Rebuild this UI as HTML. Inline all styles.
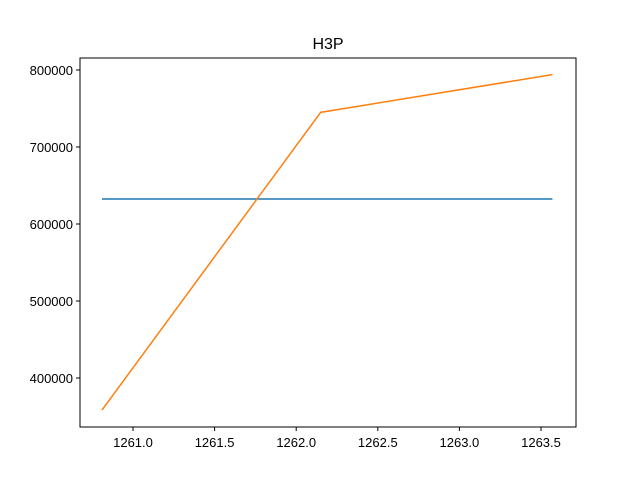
<!DOCTYPE html>
<html><head><meta charset="utf-8"><style>body{margin:0;background:#fff}svg{display:block;font-family:"Liberation Sans","DejaVu Sans",sans-serif}</style></head>
<body>
<svg id="chart" width="640" height="480">
<rect width="640" height="480" fill="#fff"/>
<text x="328" y="49" font-size="16" text-anchor="middle">H3P</text>
<g id="plot"></g>
<rect x="80" y="58" width="496" height="369" fill="none" stroke="#000" stroke-width="1"/>
</svg>
<script>
const xTicks = [1261.0, 1261.5, 1262.0, 1262.5, 1263.0, 1263.5];
const xTickLabels = ["1261.0","1261.5","1262.0","1262.5","1263.0","1263.5"];
const yTicks = [400000, 500000, 600000, 700000, 800000];
const yTickLabels = ["400000","500000","600000","700000","800000"];
const blueX = [1260.81, 1263.57];
const blueY = [632500, 632500];
const orangeX = [1260.81, 1262.15, 1263.57];
const orangeY = [358400, 745000, 794000];

const sx = v => 133 + (v - 1261.0) * 163.2;
const sy = v => 378 - (v - 400000) * 77 / 100000;
const NS = "http://www.w3.org/2000/svg";
const g = document.getElementById('plot');
function mk(tag, attrs){const e=document.createElementNS(NS,tag);for(const k in attrs)e.setAttribute(k,attrs[k]);g.appendChild(e);return e;}
xTicks.forEach((t,i)=>{
  const l=mk('line',{x1:sx(t),x2:sx(t),y1:427,y2:431,stroke:'#000'});
  
  
  const tx=mk('text',{x:sx(t),y:447,'font-size':13,'text-anchor':'middle'});
  tx.textContent=xTickLabels[i];
  
  
});
yTicks.forEach((t,i)=>{
  const l=mk('line',{x1:76,x2:80,y1:sy(t),y2:sy(t),stroke:'#000'});
  
  
  const tx=mk('text',{x:73,y:sy(t)+5,'font-size':13,'text-anchor':'end'});
  tx.textContent=yTickLabels[i];
  
  
});
function line(xs,ys,color,name){
  const p=mk('polyline',{points:xs.map((x,i)=>sx(x)+','+sy(ys[i])).join(' '),fill:'none',stroke:color,'stroke-width':1.5});
  
  
}
line(blueX,blueY,'#1f77b4','series-blue-line');
line(orangeX,orangeY,'#ff7f0e','series-orange-line');
</script>
</body></html>
